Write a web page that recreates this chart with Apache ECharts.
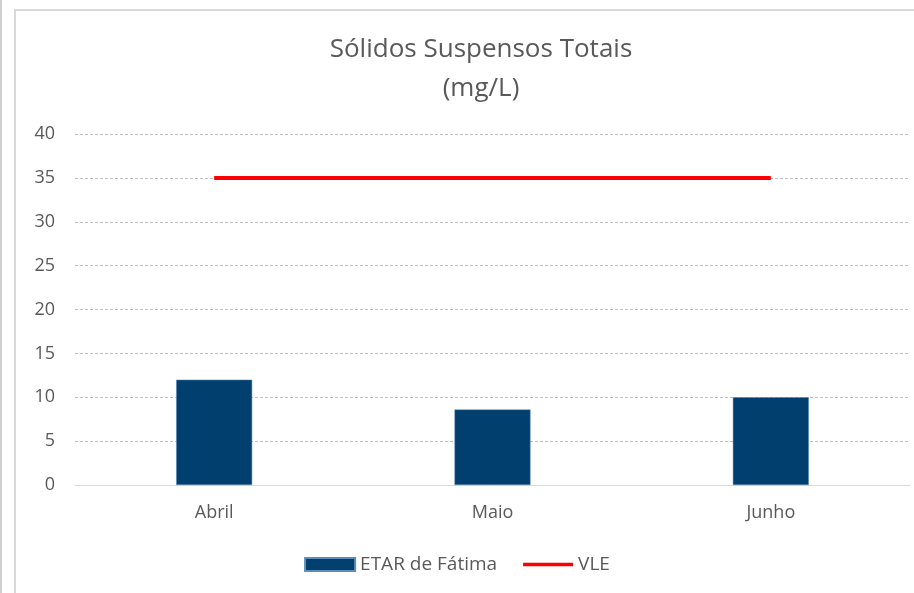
<!DOCTYPE html>
<html>
<head>
<meta charset="utf-8">
<script src="https://cdn.jsdelivr.net/npm/echarts@6/dist/echarts.min.js"></script>
<style>
html,body{margin:0;padding:0;background:#fff;}
#chart{width:914px;height:593px;}
</style>
</head>
<body>
<div id="chart"></div>
<script>
const categories = ['Abril', 'Maio', 'Junho'];
const etarValues = [12, 8.6, 10];
const vleValues = [35, 35, 35];
const yTicks = [0, 5, 10, 15, 20, 25, 30, 35, 40];

const FONT = 'Open Sans';
const chart = echarts.init(document.getElementById('chart'), null, {renderer: 'canvas'});
chart.setOption({
  backgroundColor: '#ffffff',
  animation: false,
  textStyle: {fontFamily: FONT},
  graphic: [
    {type: 'rect', shape: {x: 0, y: 0, width: 2, height: 593}, style: {fill: '#d0d0d0'}, silent: true},
    {type: 'rect', shape: {x: 14, y: 9, width: 2, height: 584}, style: {fill: '#d9d9d9'}, silent: true},
    {type: 'rect', shape: {x: 14, y: 9, width: 900, height: 2}, style: {fill: '#d9d9d9'}, silent: true}
  ],
  title: {
    text: 'Sólidos Suspensos Totais\n(mg/L)',
    left: 476,
    top: 25,
    textAlign: 'center',
    textStyle: {fontFamily: FONT, fontSize: 26, fontWeight: 'normal', color: '#595959', lineHeight: 39}
  },
  legend: {
    bottom: 14,
    left: 'center',
    itemGap: 26,
    itemWidth: 50,
    itemHeight: 13,
    textStyle: {fontFamily: FONT, fontSize: 19, color: '#595959'},
    data: [
      {name: 'ETAR de Fátima', icon: 'rect'},
      {name: 'VLE', icon: 'path://M0,0 L54,0 L54,4 L0,4 Z', itemStyle: {color: '#ff0000'}}
    ]
  },
  grid: {left: 75, right: 4, top: 134, bottom: 108, containLabel: false},
  xAxis: {
    type: 'category',
    data: categories,
    axisLine: {show: true, lineStyle: {color: '#d9d9d9', width: 1}},
    axisTick: {show: false},
    axisLabel: {fontFamily: FONT, fontSize: 18, color: '#595959', margin: 19}
  },
  yAxis: {
    type: 'value',
    min: yTicks[0],
    max: yTicks[yTicks.length - 1],
    interval: yTicks[1] - yTicks[0],
    axisLine: {show: false},
    axisTick: {show: false},
    axisLabel: {fontFamily: FONT, fontSize: 18, color: '#595959', margin: 20},
    splitLine: {show: true, lineStyle: {color: '#bfbfbf', type: [3, 2], width: 1}}
  },
  series: [
    {
      name: 'ETAR de Fátima',
      type: 'bar',
      data: etarValues,
      barWidth: '27.3%',
      itemStyle: {color: '#003f6e', borderColor: '#5b8db8', borderWidth: 0.5}
    },
    {
      name: 'VLE',
      type: 'line',
      data: vleValues,
      symbol: 'none',
      lineStyle: {color: '#ff0000', width: 4},
      itemStyle: {color: '#ff0000'}
    }
  ]
});
</script>
</body>
</html>
